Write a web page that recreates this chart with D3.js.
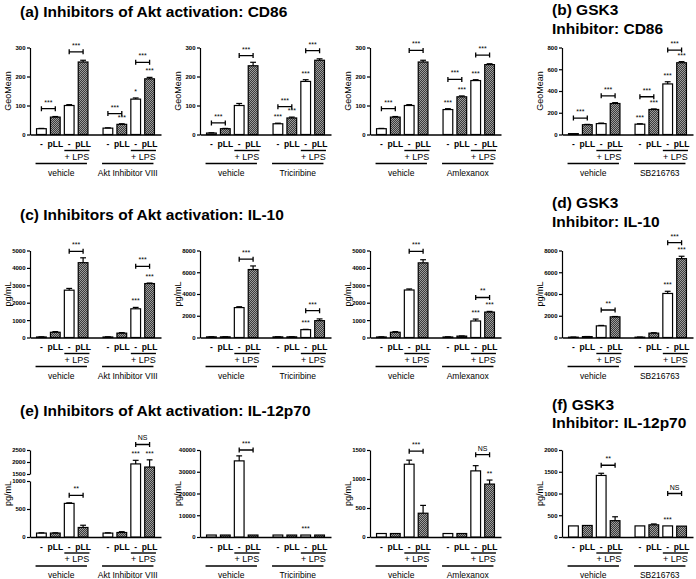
<!DOCTYPE html>
<html><head><meta charset="utf-8">
<script src="https://cdn.jsdelivr.net/npm/d3@7"></script>
<style>
body{margin:0;background:#fff;}
text{font-family:"Liberation Sans",Arial,sans-serif;fill:#000;}
</style></head><body>
<svg id="chart" width="696" height="579"></svg>
<script>
// ---------- DATA ----------
const conditions = ["-", "pLL", "-", "pLL"];
const lpsLabel = "+ LPS";

// CD86 (GeoMean)
const cd86AktVIII = [20, 60, 100, 250, 22, 35, 122, 192];
const cd86AktVIIIErr = [1, 2, 3, 6, 1, 2, 4, 5];
const cd86AktVIIIBrackets = [[0,1,89,"***"],[2,3,285,"***"],[4,5,72,"***"],[6,7,249,"***"]];
const cd86AktVIIIStars = [[5,"***"],[6,"*"],[7,"***"]];

const cd86Triciribine = [5, 20, 100, 237, 37, 57, 183, 256];
const cd86TriciribineErr = [1, 1, 7, 12, 2, 3, 6, 5];
const cd86TriciribineBrackets = [[0,1,40,"***"],[2,3,272,"***"],[4,5,96,"***"],[6,7,289,"***"]];
const cd86TriciribineStars = [[4,"***"],[5,"***"],[6,"***"]];

const cd86Amlexanox = [20, 60, 100, 250, 86, 130, 186, 241];
const cd86AmlexanoxErr = [1, 2, 3, 6, 3, 3, 3, 3];
const cd86AmlexanoxBrackets = [[0,1,89,"***"],[2,3,290,"***"],[4,5,190,"***"],[6,7,274,"***"]];
const cd86AmlexanoxStars = [[4,"***"],[5,"***"],[6,"***"]];

const cd86SB = [8, 90, 100, 285, 95, 230, 465, 660];
const cd86SBErr = [0, 3, 5, 8, 4, 5, 20, 10];
const cd86SBBrackets = [[0,1,151,"***"],[2,3,356,"***"],[4,5,347,"***"],[6,7,776,"***"]];
const cd86SBStars = [[4,"***"],[5,"***"],[6,"***"],[7,"***"]];

// IL-10 (pg/mL)
const il10AktVIII = [30, 300, 2720, 4300, 30, 250, 1650, 3100];
const il10AktVIIIErr = [10, 40, 100, 280, 10, 30, 80, 30];
const il10AktVIIIBrackets = [[2,3,4950,"***"],[6,7,4090,"***"]];
const il10AktVIIIStars = [[6,"***"],[7,"***"]];

const il10Triciribine = [60, 60, 2750, 6250, 60, 60, 720, 1550];
const il10TriciribineErr = [10, 10, 80, 330, 10, 10, 30, 160];
const il10TriciribineBrackets = [[2,3,7200,"***"],[6,7,2470,"***"]];
const il10TriciribineStars = [[6,"***"]];

const il10Amlexanox = [30, 300, 2730, 4290, 30, 80, 950, 1460];
const il10AmlexanoxErr = [10, 40, 60, 180, 10, 10, 110, 40];
const il10AmlexanoxBrackets = [[2,3,4950,"***"],[6,7,2300,"**"]];
const il10AmlexanoxStars = [[6,"***"],[7,"***"]];

const il10SB = [30, 80, 1070, 1900, 30, 400, 4050, 7250];
const il10SBErr = [10, 10, 40, 30, 10, 40, 200, 220];
const il10SBBrackets = [[2,3,2530,"**"],[6,7,8720,"***"]];
const il10SBStars = [[6,"***"],[7,"***"]];

// IL-12p70 (pg/mL)
const il12AktVIII = [70, 70, 600, 170, 70, 80, 1920, 1790];
const il12AktVIIIErr = [5, 5, 10, 40, 5, 15, 150, 300];
const il12AktVIIIBrackets = [[2,3,745,"**"],[6,7,2730,"NS"]];
const il12AktVIIIStars = [[6,"***"],[7,"***"]];

const il12Triciribine = [900, 900, 35000, 900, 900, 900, 900, 900];
const il12TriciribineErr = [0, 0, 2300, 0, 0, 0, 0, 0];
const il12TriciribineBrackets = [[2,3,40000,"***"]];
const il12TriciribineStars = [[6,"***"]];

const il12Amlexanox = [60, 60, 1255, 410, 60, 60, 1140, 912];
const il12AmlexanoxErr = [0, 0, 70, 135, 0, 0, 90, 70];
const il12AmlexanoxBrackets = [[2,3,1480,"***"],[6,7,1420,"NS"]];
const il12AmlexanoxStars = [[7,"**"]];

const il12SB = [255, 265, 1415, 375, 255, 280, 255, 250];
const il12SBErr = [0, 0, 50, 90, 0, 20, 0, 0];
const il12SBBrackets = [[2,3,1650,"**"],[6,7,1000,"NS"]];
const il12SBStars = [[6,"***"]];

// tick labels
const cd86Ticks = [0, 100, 200, 300];
const cd86GskTicks = [0, 200, 400, 600, 800];
const il10Ticks5000 = [0, 1000, 2000, 3000, 4000, 5000];
const il10Ticks8000 = [0, 2000, 4000, 6000, 8000];
const il12LowTicks = [0, 500, 1000];
const il12HighTicks = [1500, 2000, 2500];
const il12Ticks40000 = [0, 10000, 20000, 30000, 40000];
const il12Ticks1500 = [0, 500, 1000, 1500];
const il12Ticks2000 = [0, 500, 1000, 1500, 2000];

// titles
const rowTitles = ["(a) Inhibitors of Akt activation: CD86", "(c) Inhibitors of Akt activation: IL-10", "(e) Inhibitors of Akt activation: IL-12p70"];
const gskTitles = [["(b) GSK3", "Inhibitor: CD86"], ["(d) GSK3", "Inhibitor: IL-10"], ["(f) GSK3", "Inhibitor: IL-12p70"]];

// ---------- LAYOUT ----------
const rowZero = [134.5, 337.5, 537];
const axisH = 87;
const colX = [30, 200, 370, 562];
const panelW = 131;
const titleBase = [[17, 15, 34], [220, 208, 227], [416, 410, 428]];

const panels = [
  {row:0,col:0,v:cd86AktVIII,e:cd86AktVIIIErr,b:cd86AktVIIIBrackets,s:cd86AktVIIIStars,groups:["vehicle","Akt Inhibitor VIII"],label:"GeoMean",ticks:cd86Ticks},
  {row:0,col:1,v:cd86Triciribine,e:cd86TriciribineErr,b:cd86TriciribineBrackets,s:cd86TriciribineStars,groups:["vehicle","Triciribine"],label:"GeoMean",ticks:cd86Ticks},
  {row:0,col:2,v:cd86Amlexanox,e:cd86AmlexanoxErr,b:cd86AmlexanoxBrackets,s:cd86AmlexanoxStars,groups:["vehicle","Amlexanox"],label:"GeoMean",ticks:cd86Ticks},
  {row:0,col:3,v:cd86SB,e:cd86SBErr,b:cd86SBBrackets,s:cd86SBStars,groups:["vehicle","SB216763"],label:"GeoMean",ticks:cd86GskTicks},
  {row:1,col:0,v:il10AktVIII,e:il10AktVIIIErr,b:il10AktVIIIBrackets,s:il10AktVIIIStars,groups:["vehicle","Akt Inhibitor VIII"],label:"pg/mL",ticks:il10Ticks5000},
  {row:1,col:1,v:il10Triciribine,e:il10TriciribineErr,b:il10TriciribineBrackets,s:il10TriciribineStars,groups:["vehicle","Triciribine"],label:"pg/mL",ticks:il10Ticks8000},
  {row:1,col:2,v:il10Amlexanox,e:il10AmlexanoxErr,b:il10AmlexanoxBrackets,s:il10AmlexanoxStars,groups:["vehicle","Amlexanox"],label:"pg/mL",ticks:il10Ticks5000},
  {row:1,col:3,v:il10SB,e:il10SBErr,b:il10SBBrackets,s:il10SBStars,groups:["vehicle","SB216763"],label:"pg/mL",ticks:il10Ticks8000},
  {row:2,col:0,v:il12AktVIII,e:il12AktVIIIErr,b:il12AktVIIIBrackets,s:il12AktVIIIStars,groups:["vehicle","Akt Inhibitor VIII"],label:"pg/mL",ticks:null,broken:true},
  {row:2,col:1,v:il12Triciribine,e:il12TriciribineErr,b:il12TriciribineBrackets,s:il12TriciribineStars,groups:["vehicle","Triciribine"],label:"pg/mL",ticks:il12Ticks40000},
  {row:2,col:2,v:il12Amlexanox,e:il12AmlexanoxErr,b:il12AmlexanoxBrackets,s:il12AmlexanoxStars,groups:["vehicle","Amlexanox"],label:"pg/mL",ticks:il12Ticks1500},
  {row:2,col:3,v:il12SB,e:il12SBErr,b:il12SBBrackets,s:il12SBStars,groups:["vehicle","SB216763"],label:"pg/mL",ticks:il12Ticks2000}
];

const svg = d3.select("#chart");
const defs = svg.append("defs");
const pat = defs.append("pattern").attr("id","hatch").attr("patternUnits","userSpaceOnUse").attr("width",2).attr("height",2);
pat.append("rect").attr("width",2).attr("height",2).attr("fill","#3c3c3c");
pat.append("rect").attr("width",1).attr("height",1).attr("fill","#9c9c9c");
pat.append("rect").attr("x",1).attr("y",1).attr("width",1).attr("height",1).attr("fill","#9c9c9c");

// titles
rowTitles.forEach((t,r)=>{
  svg.append("text").attr("x",20).attr("y",titleBase[r][0]).attr("font-size",15.5).attr("font-weight","bold").text(t);
});
gskTitles.forEach((t,r)=>{
  svg.append("text").attr("x",552).attr("y",titleBase[r][1]).attr("font-size",15.5).attr("font-weight","bold").text(t[0]);
  svg.append("text").attr("x",552).attr("y",titleBase[r][2]).attr("font-size",15.5).attr("font-weight","bold").text(t[1]);
});

function styleAxis(sel){
  sel.selectAll("path,line").attr("stroke","#000").attr("stroke-width",1.2);
  sel.selectAll("text").attr("font-size",6).attr("font-weight","bold").attr("font-family","Liberation Sans, Arial, sans-serif");
}
const fmt = d3.format("d");

panels.forEach(p=>{
  const y0 = rowZero[p.row], x0 = colX[p.col];
  const g = svg.append("g");
  let y;
  if (p.broken) {
    y = d3.scaleLinear().domain([0,1000,1500,2500]).range([y0, y0-56, y0-63, y0-axisH]);
    const yLow = d3.scaleLinear().domain([0,1000]).range([y0, y0-56]);
    const yHigh = d3.scaleLinear().domain([1500,2500]).range([y0-63, y0-axisH]);
    g.append("g").attr("transform",`translate(${x0},0)`)
      .call(d3.axisLeft(yLow).tickValues(il12LowTicks).tickSize(3).tickPadding(1.5).tickSizeOuter(0).tickFormat(fmt)).call(styleAxis);
    g.append("g").attr("transform",`translate(${x0},0)`)
      .call(d3.axisLeft(yHigh).tickValues(il12HighTicks).tickSize(3).tickPadding(1.5).tickSizeOuter(0).tickFormat(fmt)).call(styleAxis);
  } else {
    y = d3.scaleLinear().domain([0, d3.max(p.ticks)]).range([y0, y0-axisH]);
    g.append("g").attr("transform",`translate(${x0},0)`)
      .call(d3.axisLeft(y).tickValues(p.ticks).tickSize(3).tickPadding(1.5).tickSizeOuter(0).tickFormat(fmt)).call(styleAxis);
  }
  const outer = d3.scaleBand().domain([0,1]).range([x0, x0+panelW]).paddingInner(0.206).paddingOuter(0.088);
  const inner = d3.scaleBand().domain([0,1,2,3]).range([0, outer.bandwidth()]).paddingInner(0.3).paddingOuter(0.05);
  const bw = inner.bandwidth();
  const bx = i => outer(Math.floor(i/4)) + inner(i%4);
  const bc = i => bx(i) + bw/2;

  // x axis
  g.append("g").attr("transform",`translate(0,${y0})`)
    .call(d3.axisBottom(outer).tickSize(0).tickSizeOuter(0).tickFormat(""))
    .call(sel=>{sel.select("path").attr("stroke","#000").attr("stroke-width",1.3);});

  // y label
  g.append("text").attr("transform",`translate(${x0-22},${y0-axisH/2}) rotate(-90)`)
    .attr("text-anchor","middle").attr("dominant-baseline","central").attr("font-size",9).text(p.label);

  // bars
  p.v.forEach((v,i)=>{
    g.append("rect").attr("x",bx(i)).attr("width",bw).attr("y",y(v)).attr("height",Math.max(0,y0-y(v)))
      .attr("fill", i%2===0 ? "#fff" : "url(#hatch)").attr("stroke","#000").attr("stroke-width",1.2);
    const e = p.e[i];
    if (e>0){
      g.append("line").attr("x1",bc(i)).attr("x2",bc(i)).attr("y1",y(v)).attr("y2",y(v+e)).attr("stroke","#000").attr("stroke-width",1.2);
      g.append("line").attr("x1",bc(i)-bw*0.3).attr("x2",bc(i)+bw*0.3).attr("y1",y(v+e)).attr("y2",y(v+e)).attr("stroke","#000").attr("stroke-width",1.2);
    }
    g.append("text").attr("x",bc(i)).attr("y",y0+9.5).attr("text-anchor","middle").attr("dominant-baseline","central")
      .attr("font-size",8.5).attr("font-weight","bold").text(conditions[i%4]);
  });

  // LPS + group lines
  [0,1].forEach(k=>{
    const l1 = bx(k*4+2), l2 = bx(k*4+3)+bw+1.5;
    g.append("line").attr("x1",l1).attr("x2",l2).attr("y1",y0+16).attr("y2",y0+16).attr("stroke","#000").attr("stroke-width",1.4);
    g.append("text").attr("x",(l1+l2)/2).attr("y",y0+22).attr("text-anchor","middle").attr("dominant-baseline","central")
      .attr("font-size",9).text(lpsLabel);
    const m1 = bx(k*4)-1, m2 = bx(k*4+3)+bw-1;
    g.append("line").attr("x1",m1).attr("x2",m2).attr("y1",y0+29).attr("y2",y0+29).attr("stroke","#000").attr("stroke-width",1.4);
    g.append("text").attr("x",(m1+m2)/2).attr("y",y0+38).attr("text-anchor","middle").attr("dominant-baseline","central")
      .attr("font-size",8.5).text(p.groups[k]);
  });

  // brackets
  p.b.forEach(([a,b,val,lab])=>{
    const yy = y(val);
    g.append("path").attr("d",`M${bc(a)},${yy-2.5}V${yy+2.5}M${bc(a)},${yy}H${bc(b)}M${bc(b)},${yy-2.5}V${yy+2.5}`)
      .attr("stroke","#000").attr("stroke-width",1.3).attr("fill","none");
    g.append("text").attr("x",(bc(a)+bc(b))/2).attr("y",yy-4).attr("text-anchor","middle")
      .attr("font-size",7).attr("fill","#222").text(lab);
  });
  // stars above bars
  p.s.forEach(([i,lab])=>{
    g.append("text").attr("x",bc(i)).attr("y",y(p.v[i]+p.e[i])-4).attr("text-anchor","middle")
      .attr("font-size",7).attr("fill","#222").text(lab);
  });
});
</script>
</body></html>
